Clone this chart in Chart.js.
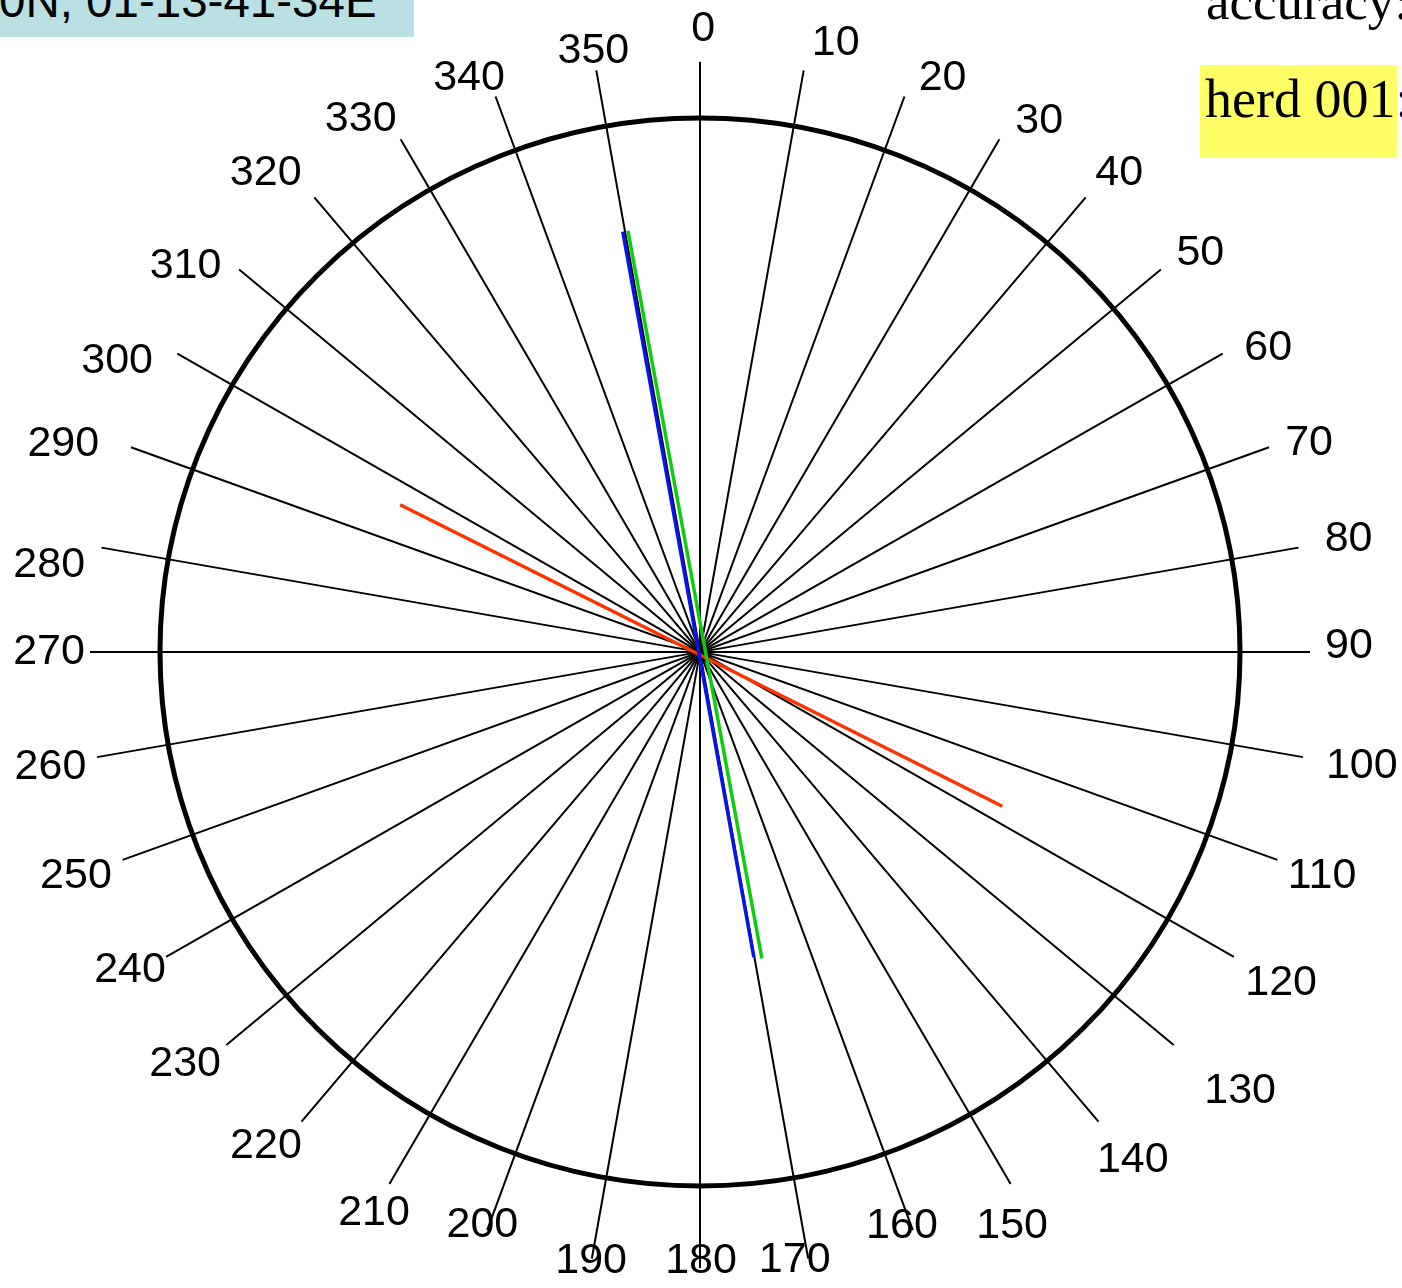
<!DOCTYPE html>
<html>
<head>
<meta charset="utf-8">
<script src="https://cdn.jsdelivr.net/npm/chart.js@4.4.1/dist/chart.umd.min.js"></script>
<style>
  html, body { margin: 0; padding: 0; background: #fff; overflow: hidden; }
  #wrap { position: relative; width: 1402px; height: 1288px; }
  #grafico { position: absolute; left: 0; top: 0; }
  .caixaGps { position: absolute; left: 0; top: 0; width: 414px; height: 37px; background: #bbe0e3; overflow: hidden; }
  .caixaGps span { position: absolute; left: -1px; top: -23px; font: 47.5px "Liberation Sans", Arial, sans-serif; line-height: 1; white-space: nowrap; color: #000; }
  .serif { position: absolute; font: 54px "Liberation Serif", "Times New Roman", serif; line-height: 1; white-space: nowrap; color: #000; }
  #accuracy { left: 1206px; top: -25px; font-size: 53px; }
  #herdBox { position: absolute; left: 1200px; top: 65px; width: 197px; height: 92px; background: #ffff66; }
  #herd { left: 1205px; top: 72px; }
</style>
</head>
<body>
<div id="wrap">
  <canvas id="grafico" width="1402" height="1288"></canvas>
  <div class="caixaGps"><span>0N, 01-13-41-34E</span></div>
  <div class="serif" id="accuracy">accuracy:</div>
  <div id="herdBox"></div>
  <div class="serif" id="herd">herd 001:</div>
</div>
<script>
// rosa de direcoes: 0..350 de 10 em 10
const tickBearings = [0, 10, 20, 30, 40, 50, 60, 70, 80, 90, 100, 110, 120, 130, 140, 150, 160, 170,
  180, 190, 200, 210, 220, 230, 240, 250, 260, 270, 280, 290, 300, 310, 320, 330, 340, 350]
const tickLabels = ['0', '10', '20', '30', '40', '50', '60', '70', '80', '90', '100', '110', '120', '130', '140', '150', '160', '170',
  '180', '190', '200', '210', '220', '230', '240', '250', '260', '270', '280', '290', '300', '310', '320', '330', '340', '350']

// linhas medidas (rumo e comprimento de cada ponta, raio do circulo = 1)
const seriesNames = ['azul', 'verde', 'vermelho']
const bearingA = [349.7, 350.4, 296.4]
const lengthA = [0.80, 0.80, 0.62]
const bearingB = [170.1, 168.7, 117.3]
const lengthB = [0.58, 0.585, 0.63]

// layout dos rotulos (so posicao): distancia em px p/ raio 540 e giro em graus
const labelDist = [627, 627, 626, 633, 639, 642, 646, 645, 659, 649, 671, 660, 667, 694, 665, 650, 605, 612,
  606, 615, 610, 646, 655, 657, 651, 662, 659, 651, 657, 671, 653, 645, 649, 635, 622, 614]
const labelTurn = [0.3, 2.5, 2.8, 2.4, 1.0, 1.2, 1.6, 0.8, -0.2, -0.8, -0.5, -0.5, -0.6, -1.1, -0.6, 1.3, 0.5, 1.1,
  -0.1, 0.2, 0.9, 0.3, 1.5, 1.6, 1.1, 0.5, 0.3, 0.3, -2.1, -1.6, -3.2, -2.9, -2.0, -2.3, -1.8, 0]

const cores = ['#0a14e6', '#10cc10', '#ff3300']

const rad = (g) => g * Math.PI / 180
const ponto = (b, r) => ({ x: r * Math.sin(rad(b)), y: r * Math.cos(rad(b)) })
// raios um pouco mais curtos em cima do que embaixo, como no original
const spokeLen = (b) => (610 - 13 * Math.cos(rad(b))) / 540

const datasets = []
seriesNames.forEach((nome, i) => {
  datasets.push({
    label: nome,
    data: [ponto(bearingA[i], lengthA[i]), ponto(bearingB[i], lengthB[i])],
    showLine: true,
    borderColor: cores[i],
    borderWidth: 3.5,
    pointRadius: 0
  })
})
tickBearings.filter(b => b < 180).forEach(b => {
  datasets.push({
    label: 'raio ' + b,
    data: [ponto(b, spokeLen(b)), ponto(b + 180, spokeLen(b + 180))],
    showLine: true,
    borderColor: '#000',
    borderWidth: 2,
    pointRadius: 0
  })
})

const rosa = {
  id: 'rosa',
  beforeDatasetsDraw(chart) {
    const { ctx, scales: { x, y } } = chart
    const cx = x.getPixelForValue(0), cy = y.getPixelForValue(0)
    const rx = x.getPixelForValue(1) - cx, ry = cy - y.getPixelForValue(1)
    ctx.save()
    ctx.beginPath()
    ctx.ellipse(cx, cy, rx, ry, 0, 0, Math.PI * 2)
    ctx.lineWidth = 5
    ctx.strokeStyle = '#000'
    ctx.stroke()
    ctx.restore()
  },
  afterDraw(chart) {
    const { ctx, scales: { x, y } } = chart
    const cx = x.getPixelForValue(0), cy = y.getPixelForValue(0)
    const k = (x.getPixelForValue(1) - cx) / 540
    const h = 31
    ctx.save()
    ctx.font = '43px "Liberation Sans", Arial, sans-serif'
    ctx.fillStyle = '#000'
    ctx.textAlign = 'center'
    ctx.textBaseline = 'alphabetic'
    tickBearings.forEach((b, i) => {
      const a = rad(b + labelTurn[i])
      const r = labelDist[i] * k
      ctx.fillText(tickLabels[i], cx + Math.sin(a) * r, cy - Math.cos(a) * r + h / 2)
    })
    ctx.restore()
  }
}

new Chart(document.getElementById('grafico'), {
  type: 'scatter',
  data: { datasets: datasets },
  options: {
    responsive: false,
    animation: false,
    layout: { padding: 0 },
    scales: {
      x: { type: 'linear', min: -700 / 540, max: 702 / 540, display: false },
      y: { type: 'linear', min: -636 / 534, max: 652 / 534, display: false }
    },
    plugins: {
      legend: { display: false },
      tooltip: { enabled: false }
    }
  },
  plugins: [rosa]
})
</script>
</body>
</html>
